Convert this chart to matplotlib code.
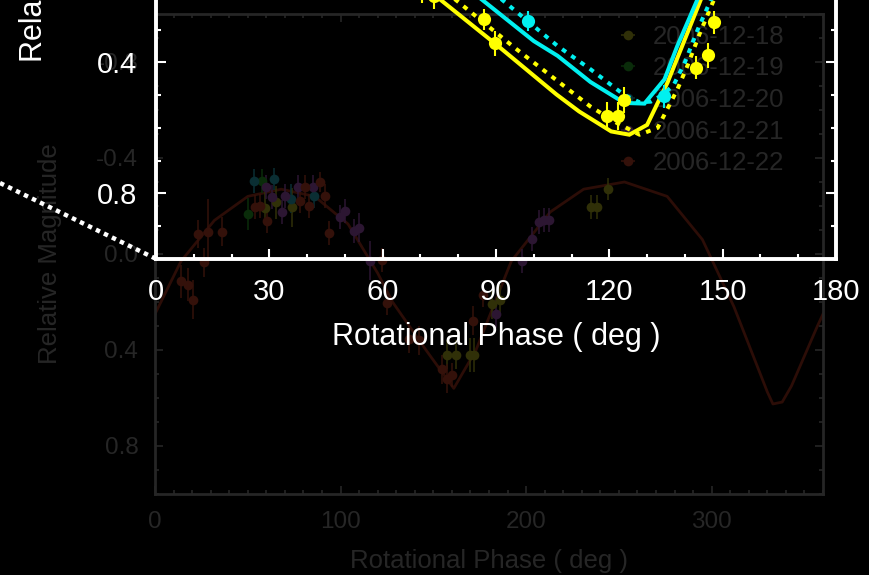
import matplotlib
matplotlib.use('Agg')
import numpy as np
import matplotlib.pyplot as plt
from matplotlib.lines import Line2D
from matplotlib.ticker import MultipleLocator, FormatStrFormatter
from matplotlib.legend_handler import HandlerErrorbar

plt.rcParams['font.family'] = ['Liberation Sans', 'DejaVu Sans']

# ---- faded background panel: full rotation, all nights ----
model_phase = [0, 14, 32, 50, 68, 86, 104, 120, 128, 146, 161, 173, 192, 213, 231, 253,
               276, 295, 312, 330, 333, 338, 343, 357, 360]
model_mag = [0.25, 0.03, -0.14, -0.24, -0.27, -0.24, -0.125, 0.08, 0.2, 0.40, 0.56, 0.40,
             0.03, -0.175, -0.27, -0.30, -0.24, -0.06, 0.22, 0.575, 0.625, 0.617, 0.55, 0.30, 0.25]

dates = ['2006-12-18', '2006-12-19', '2006-12-20', '2006-12-21', '2006-12-22']

ph_1218 = [59, 65, 73.7, 157.5, 162, 170, 172, 181.8, 186, 235, 238, 244]
mag_1218 = [-0.19, -0.215, -0.194, 0.42, 0.42, 0.42, 0.42, 0.21, 0.19, -0.194, -0.194, -0.27]
err_1218 = [0.07, 0.07, 0.08, 0.06, 0.06, 0.07, 0.07, 0.06, 0.06, 0.05, 0.05, 0.045]

ph_1219 = [49.9, 57.5]
mag_1219 = [-0.167, -0.305]
err_1219 = [0.066, 0.05]

ph_1220 = [53.5, 64, 73.5, 85.6]
mag_1220 = [-0.303, -0.313, -0.23, -0.24]
err_1220 = [0.05, 0.045, 0.06, 0.05]

ph_1221 = [59.6, 63, 68.3, 70, 77.3, 85.4, 99.8, 102.5, 107, 110, 116, 183.6, 198, 203.4,
           207, 209.5, 212.4]
mag_1221 = [-0.278, -0.236, -0.174, -0.243, -0.278, -0.28, -0.153, -0.18, -0.097, -0.11,
            0.028, 0.25, 0.028, -0.0625, -0.135, -0.14, -0.143]
err_1221 = [0.05, 0.05, 0.05, 0.05, 0.05, 0.05, 0.05, 0.05, 0.05, 0.06, 0.08, 0.06, 0.05,
            0.05, 0.05, 0.05, 0.05]

ph_1222 = [14.2, 17.5, 20.2, 26.3, 23.2, 28.6, 35.9, 53.9, 56.6, 60.2, 78.2, 80.9, 83.1,
           89, 91.7, 94, 122.3, 125, 136.8, 142, 154.8, 157.5, 160.2, 171.4, 176.8]
mag_1222 = [0.114, 0.128, 0.19, 0.035, -0.083, -0.093, -0.093, -0.197, -0.2, -0.139, -0.222,
            -0.28, -0.201, -0.3, -0.24, -0.086, 0.024, 0.204, 0.354, 0.36, 0.48, 0.52, 0.504,
            0.278, 0.17]
err_1222 = [0.07, 0.07, 0.08, 0.06, 0.06, 0.135, 0.06, 0.05, 0.05, 0.05, 0.05, 0.05, 0.05,
            0.04, 0.05, 0.05, 0.05, 0.05, 0.06, 0.06, 0.06, 0.06, 0.05, 0.06, 0.05]

dim_colors = ['#303008', '#0a2c0a', '#0a2e33', '#2c1632', '#34110a']
dim_model = '#2c0d07'
dim_gray = '#262626'

# ---- bright zoomed panel ----
ph_yellow = [67, 70.5, 73.5, 86.8, 89.8, 119.3, 122.2, 124, 143, 146.2, 147.8, 152.5]
mag_yellow = [0.165, 0.18, 0.197, 0.268, 0.342, 0.565, 0.563, 0.514, 0.416, 0.378, 0.278, 0.16]
err_yellow = [0.04, 0.04, 0.04, 0.032, 0.038, 0.043, 0.043, 0.04, 0.035, 0.038, 0.035, 0.045]

ph_cyan = [98.4, 134.4]
mag_cyan = [0.273, 0.503]
err_cyan = [0.03, 0.035]

fit_y_ph = [55, 75, 90, 106, 112, 120.5, 125.3, 130, 135.4, 144.3, 150]
fit_y_mag = [0.02, 0.206, 0.345, 0.498, 0.55, 0.611, 0.621, 0.591, 0.462, 0.206, 0.04]
fit_y2_ph = [60, 79, 95, 106.3, 115, 122, 128, 132.8, 138, 140.7, 144, 147.8, 152]
fit_y2_mag = [0.03, 0.206, 0.356, 0.457, 0.535, 0.585, 0.621, 0.60, 0.483, 0.41, 0.31, 0.206, 0.09]
fit_c_ph = [65, 86, 100, 106.3, 115, 124, 129.3, 134.6, 138, 143.4, 148]
fit_c_mag = [0.0, 0.206, 0.335, 0.38, 0.46, 0.524, 0.526, 0.452, 0.35, 0.206, 0.08]
fit_c2_ph = [70, 91.3, 106.3, 115, 124, 128, 131, 134, 137, 140, 143.4, 147, 151]
fit_c2_mag = [0.0, 0.206, 0.35, 0.421, 0.50, 0.522, 0.52, 0.50, 0.47, 0.40, 0.30, 0.206, 0.1]

fig = plt.figure(figsize=(8.7, 5.75), dpi=100, facecolor='black')

# background axes
ax = fig.add_axes([0.1782, 0.1409, 0.7678, 0.8348], facecolor='black')
ax.plot(model_phase, model_mag, color=dim_model, lw=2)
series = [(ph_1218, mag_1218, err_1218), (ph_1219, mag_1219, err_1219),
          (ph_1220, mag_1220, err_1220), (ph_1221, mag_1221, err_1221),
          (ph_1222, mag_1222, err_1222)]
handles = []
for (p, m, e), c, d in zip(series, dim_colors, dates):
    ax.errorbar(p, m, yerr=e, fmt='o', color=c, ms=7, mew=0, capsize=2.4, elinewidth=1.1)
    h = ax.errorbar([np.nan], [np.nan], xerr=[1], fmt='o', color=c, ms=7, mew=0,
                    capsize=2.4, elinewidth=1.1, label=d)
    handles.append(h)
ax.set_xlim(0, 360)
ax.set_ylim(1.0, -1.0)
ax.xaxis.set_major_locator(MultipleLocator(100))
ax.xaxis.set_minor_locator(MultipleLocator(10))
ax.yaxis.set_major_locator(MultipleLocator(0.4))
ax.yaxis.set_minor_locator(MultipleLocator(0.1))
ax.yaxis.set_major_formatter(FormatStrFormatter('%.1f'))
ax.tick_params(which='both', direction='in', top=True, right=True, colors=dim_gray,
               labelsize=17.5, width=1.2, pad=12)
ax.tick_params(which='major', length=6)
ax.tick_params(which='minor', length=3)
for s in ax.spines.values():
    s.set_color(dim_gray)
    s.set_linewidth(2)
ax.set_xlabel('Rotational Phase ( deg )', color=dim_gray, fontsize=18.5)
ax.set_ylabel('Relative Magnitude', color=dim_gray, fontsize=18.5)
ax.xaxis.set_label_coords(0.5, -0.115)
ax.yaxis.set_label_coords(-0.139, 0.5)
leg = ax.legend(handles=handles, loc='upper left', bbox_to_anchor=(0.689, 0.978),
                frameon=False, fontsize=18.5, labelspacing=0.3, handlelength=1.0,
                handletextpad=0.46, borderpad=0, borderaxespad=0,
                handler_map={type(handles[0]): HandlerErrorbar(xerr_size=0.28)})
for t in leg.get_texts():
    t.set_color(dim_gray)

# zoomed inset axes (extends beyond the top of the figure)
ax2 = fig.add_axes([0.1793, 0.5499, 0.7816, 1.139])
ax2.patch.set_visible(False)
ax2.plot(fit_y_ph, fit_y_mag, color='#ffff00', lw=2.9, solid_joinstyle='miter')
ax2.plot(fit_y2_ph, fit_y2_mag, color='#ffff00', lw=2.9, linestyle=(0, (1.2, 1.6)))
ax2.plot(fit_c_ph, fit_c_mag, color='#00f0f0', lw=2.9, solid_joinstyle='miter')
ax2.plot(fit_c2_ph, fit_c2_mag, color='#00f0f0', lw=2.9, linestyle=(0, (1.2, 1.6)))
ax2.errorbar(ph_yellow, mag_yellow, yerr=err_yellow, fmt='o', color='#ffff00', ms=9.5,
             mew=0, capsize=3.4, elinewidth=1.5, capthick=1.5)
ax2.errorbar(ph_cyan, mag_cyan, yerr=err_cyan, fmt='o', color='#00f0f0', ms=9.5,
             mew=0, capsize=3.4, elinewidth=1.5, capthick=1.5)
ax2.set_xlim(0, 180)
ax2.set_ylim(1.0, -1.0)
ax2.xaxis.set_major_locator(MultipleLocator(30))
ax2.xaxis.set_minor_locator(MultipleLocator(10))
ax2.yaxis.set_major_locator(MultipleLocator(0.4))
ax2.yaxis.set_minor_locator(MultipleLocator(0.1))
ax2.yaxis.set_major_formatter(FormatStrFormatter('%.1f'))
ax2.tick_params(which='both', direction='in', top=True, right=True, colors='white',
                labelsize=21, width=1.5, pad=13.5)
ax2.tick_params(which='major', length=7)
ax2.tick_params(which='minor', length=3.6)
for s in ax2.spines.values():
    s.set_color('white')
    s.set_linewidth(2.8)
ax2.set_xlabel('Rotational Phase ( deg )', color='white', fontsize=22)
ax2.set_ylabel('Relative Magnitude', color='white', fontsize=22)
ax2.xaxis.set_label_coords(0.5, -0.097)
ax2.yaxis.set_label_coords(-0.158, 0.5)

# dotted zoom connector to the inset corner
pos = ax2.get_position()
fig.add_artist(Line2D([0, pos.x0], [1 - 183 / 575, pos.y0], transform=fig.transFigure,
                      color='white', lw=3.2, linestyle=(0, (1, 1))))

fig.savefig('out.png', dpi=100, facecolor='black')
